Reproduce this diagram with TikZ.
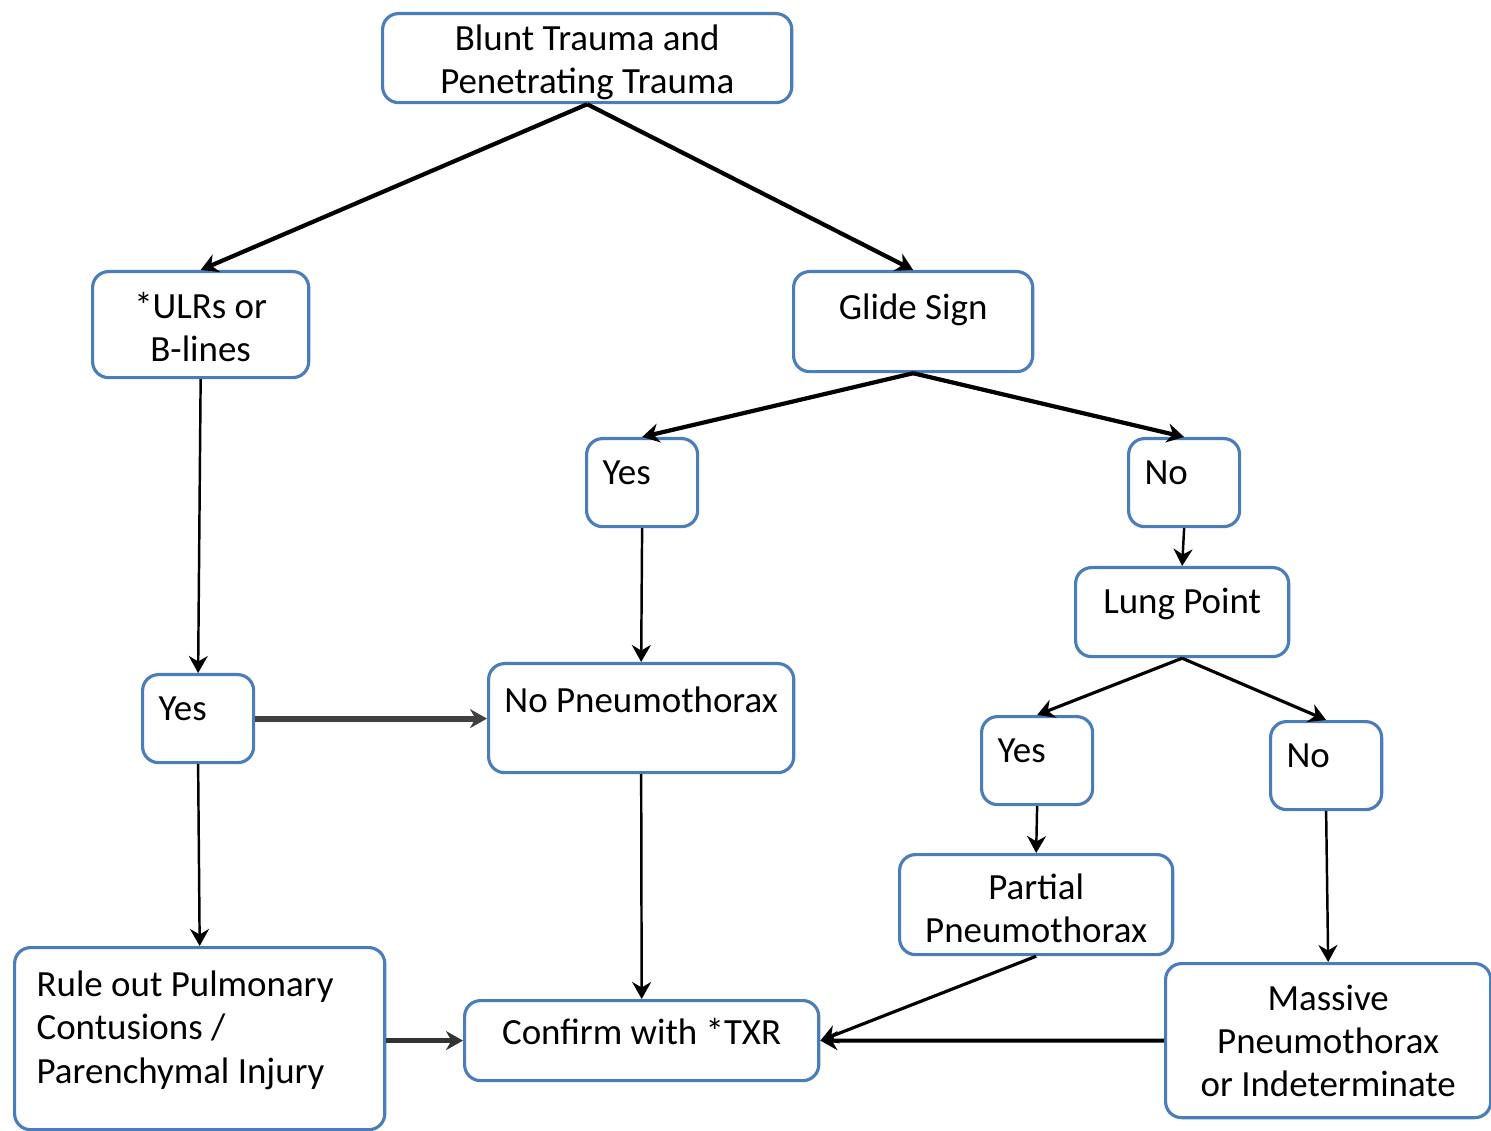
\documentclass[tikz,border=0pt]{standalone}
\usepackage{fontspec}
\setmainfont{Carlito}
\usepackage{tikz}
\usetikzlibrary{positioning, arrows.meta}
\definecolor{boxblue}{HTML}{4A7EBB}
\tikzset{>={Stealth[length=1.7mm, width=1.9mm]}}
\tikzset{box/.style={draw=boxblue, line width=0.9pt, rounded corners=0.16cm, fill=white,
    inner ysep=0pt, font=\fontsize{10.5}{12.3}\selectfont}}
\tikzset{answer/.style={box, anchor=north west, text width=0.79cm, align=flush left, inner xsep=0.16cm,
    text height=0.46cm, text depth=0.42cm}}
\tikzset{heavy/.style={->, line width=1.2pt}, light/.style={->, line width=0.7pt}}

\begin{document}
\begin{tikzpicture}[x=0.01cm, y=-0.01cm]
    \useasboundingbox (0,0) rectangle (1491,1131);

    \node[box, anchor=north west, align=center, minimum width=4.09cm, text height=0.80cm, text depth=0.09cm] (trauma) at (381,12)
    {Blunt Trauma and \\ Penetrating Trauma};

    \node[box, anchor=north west, align=center, minimum width=2.16cm, text height=0.90cm, text depth=0.16cm] (ulrs) at (91,270)
    {*ULRs or \\ B-lines};
    \node[box, anchor=north west, minimum width=2.39cm, text height=0.48cm, text depth=0.52cm] (glide) at (792,270) {Glide Sign};

    \node[answer] (glide-yes) at (585,437) {Yes};
    \node[answer] (glide-no) at (1127,437) {No};

    \node[box, anchor=north west, minimum width=2.13cm, text height=0.46cm, text depth=0.43cm] (lung) at (1074,566) {Lung Point};

    \node[answer] (ulrs-yes) at (141,673) {Yes};
    \node[box, anchor=north west, minimum width=3.05cm, text height=0.49cm, text depth=0.60cm] (no-pneumo) at (487,662) {No Pneumothorax};

    \node[answer] (lung-yes) at (980,715) {Yes};
    \node[answer] (lung-no) at (1269,720) {No};

    \node[box, anchor=north west, align=center, minimum width=2.73cm, text height=0.88cm, text depth=0.12cm] (partial) at (898,853)
    {Partial \\ Pneumothorax};

    \node[box, anchor=north west, text width=3.26cm, inner xsep=0.22cm, align=flush left, text height=0.49cm, text depth=1.33cm] (rule-out) at (13,946)
    {Rule out Pulmonary \\ Contusions / \\ Parenchymal Injury};
    \node[box, anchor=north west, minimum width=3.54cm, text height=0.44cm, text depth=0.36cm] (confirm) at (463,999) {Confirm with *TXR};
    \node[box, anchor=north west, align=center, minimum width=3.25cm, text height=1.33cm, text depth=0.21cm] (massive) at (1164,962)
    {Massive \\ Pneumothorax \\ or Indeterminate};

    \draw [heavy] (trauma.south) to (ulrs.north);
    \draw [heavy] (trauma.south) to (glide.north);

    \draw [heavy] (glide.south) to (glide-yes.north);
    \draw [heavy] (glide.south) to (glide-no.north);
    \draw [light] (glide-no.south) to (lung.north);

    \draw [->, line width=0.9pt] (lung.south) to (lung-yes.north);
    \draw [->, line width=0.9pt] (lung.south) to (lung-no.north);

    \draw [light] (ulrs.south) to (ulrs-yes.north);
    \draw [->, line width=1.7pt, black!75] (ulrs-yes.east) to (ulrs-yes.east -| no-pneumo.west);
    \draw [light] (ulrs-yes.south) to (rule-out.north);
    \draw [light] (glide-yes.south) to (no-pneumo.north);
    \draw [light] (no-pneumo.south) to (confirm.north);

    \draw [light] (lung-yes.south) to (partial.north);
    \draw [light] (lung-no.south) to (massive.north);

    \draw [->, line width=1.5pt, black!80] (rule-out.east |- confirm.west) to (confirm.west);
    \draw [->, line width=0.9pt] (partial.south) to (confirm.east);
    \draw [->, line width=1.1pt] (massive.west) to (confirm.east);
\end{tikzpicture}
\end{document}
